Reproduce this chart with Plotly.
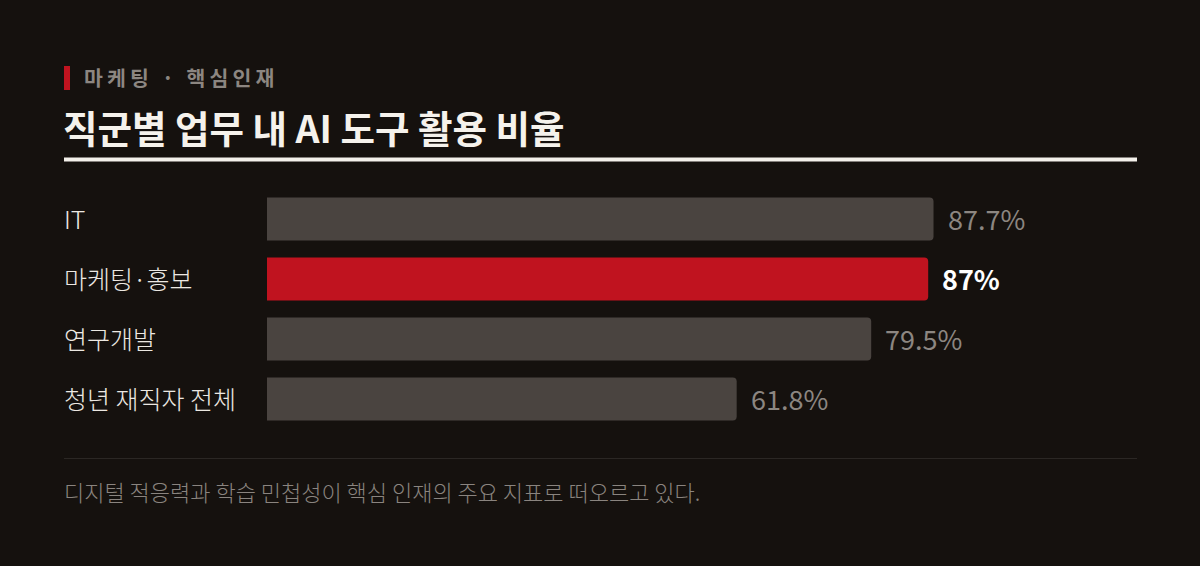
import plotly.graph_objects as go

# data
categories = ["IT", "마케팅·홍보", "연구개발", "청년 재직자 전체"]
shares = [87.7, 87.0, 79.5, 61.8]
value_labels = ["87.7%", "87%", "79.5%", "61.8%"]
highlight = "마케팅·홍보"

kicker = "마케팅 · 핵심인재"
title = "직군별 업무 내 AI 도구 활용 비율"
footnote = "디지털 적응력과 학습 민첩성이 핵심 인재의 주요 지표로 떠오르고 있다."

BG = "#15110e"
GRAY_BAR = "#4a4440"
RED = "#c0131f"
FONT = "Noto Sans CJK KR"

# plot area in pixels
W, H = 1200, 566
L, R, T, B = 267, 1137, 189, 429


def px_x(p):
    return (p - L) / (R - L)


def px_y(p):
    return (B - p) / (B - T)


bar_colors = [RED if c == highlight else GRAY_BAR for c in categories]

fig = go.Figure(go.Bar(
    x=shares,
    y=categories,
    orientation="h",
    marker=dict(color=bar_colors, line=dict(width=0), cornerradius=4),
    hoverinfo="skip",
))

annotations = []
for c, v, lab in zip(categories, shares, value_labels):
    hl = c == highlight
    annotations.append(dict(
        x=v, y=c, xref="x", yref="y", text=lab, showarrow=False,
        xanchor="left", yanchor="middle", xshift=12, yshift=1,
        font=dict(family=FONT, size=27, color="#ffffff" if hl else "#8c8681",
                  weight="bold" if hl else "normal"),
    ))
    annotations.append(dict(
        x=px_x(62), y=c, xref="paper", yref="y", text=c, showarrow=False,
        xanchor="left", yanchor="middle", yshift=1,
        font=dict(family=FONT, size=25, color="#ece8e2", weight=300),
    ))

annotations += [
    dict(x=px_x(82), y=px_y(77), xref="paper", yref="paper",
         text="\u2009".join(kicker), showarrow=False,
         xanchor="left", yanchor="middle",
         font=dict(family=FONT, size=20.5, color="#8c8681", weight="bold")),
    dict(x=px_x(61), y=px_y(126), xref="paper", yref="paper",
         text=title, showarrow=False, xanchor="left", yanchor="middle",
         font=dict(family=FONT, size=37.5, color="#f5f2ec", weight="bold")),
    dict(x=px_x(62), y=px_y(491), xref="paper", yref="paper",
         text=footnote, showarrow=False, xanchor="left", yanchor="middle",
         font=dict(family=FONT, size=22, color="#8a847f", weight=300)),
]

shapes = [
    # red kicker mark
    dict(type="rect", xref="paper", yref="paper",
         x0=px_x(64), x1=px_x(70), y0=px_y(90), y1=px_y(66),
         fillcolor=RED, line=dict(width=0)),
    # title rule
    dict(type="rect", xref="paper", yref="paper",
         x0=px_x(64), x1=px_x(1137), y0=px_y(161.5), y1=px_y(157.5),
         fillcolor="#f3f0ea", line=dict(width=0)),
    # footer rule
    dict(type="line", xref="paper", yref="paper",
         x0=px_x(64), x1=px_x(1137), y0=px_y(458.5), y1=px_y(458.5),
         line=dict(color="#2b2724", width=1)),
]

fig.update_layout(
    width=W, height=H,
    paper_bgcolor=BG, plot_bgcolor=BG,
    margin=dict(l=L, r=W - R, t=T, b=H - B),
    bargap=0.283,
    showlegend=False,
    annotations=annotations,
    shapes=shapes,
    font=dict(family=FONT),
)
fig.update_xaxes(range=[0, (R - L) / 7.6], visible=False, fixedrange=True)
fig.update_yaxes(autorange="reversed", visible=False, fixedrange=True)

# drop the default page margin so the figure sits at the window corner
fig.write_html("out.html", config={"displayModeBar": False},
               post_script="document.body.style.margin='0';")
